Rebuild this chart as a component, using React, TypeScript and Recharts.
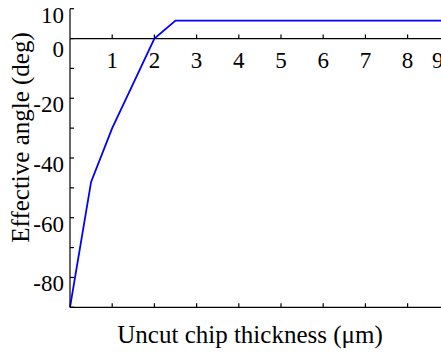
import React from 'react'
import { Label, Line, LineChart, ReferenceDot, ReferenceLine, XAxis, YAxis } from 'recharts'

const FONT = '"Liberation Serif", "Times New Roman", serif'

// uncut chip thickness (µm) vs effective angle (deg)
const thickness = [0, 0.5, 1, 1.5, 2, 2.5, 10]
const angle = [-90, -48, -30, -15, 0, 6, 6]

const xTicks = [1, 2, 3, 4, 5, 6, 7, 8, 9]
const yTicks = [-90, -80, -70, -60, -50, -40, -30, -20, -10, 0, 10]
const yLabels = [10, 0, -20, -40, -60, -80]

const data = thickness.map((x, i) => ({ x, angle: angle[i] }))

const YTick = ({ x, y, payload }) => {
  const v = payload.value
  return (
    <g>
      <line x1={x} x2={x + 4} y1={y} y2={y} stroke="#000" strokeWidth={1.2} />
      {yLabels.includes(v) && (
        <text x={x - 6} y={y + (v === 0 ? 18 : 14)} textAnchor="end" fontSize={23} fontFamily={FONT} fill="#000">
          {v}
        </text>
      )}
    </g>
  )
}

const BottomTick = ({ x, y }) => <line x1={x} x2={x} y1={y} y2={y - 4} stroke="#000" strokeWidth={1.2} />
const TopTick = ({ x, y }) => <line x1={x} x2={x} y1={y} y2={y + 4} stroke="#000" strokeWidth={1.2} />

// tick + label sitting on the zero line
const ZeroTick = ({ cx, cy, value }) => (
  <g>
    <line x1={cx} x2={cx} y1={cy} y2={cy - 4} stroke="#000" strokeWidth={1.2} />
    <text x={cx + (value === 9 ? -12 : 0)} y={cy + 29} textAnchor="middle" fontSize={23} fontFamily={FONT} fill="#000">
      {value}
    </text>
  </g>
)

export default function App() {
  return (
    <div style={{ position: 'absolute', left: 0, top: 0, width: 441, height: 354, overflow: 'hidden', background: '#fff' }}>
      <LineChart width={500} height={354} data={data} margin={{ top: 8.7, right: 8, bottom: 0, left: 0 }}>
        <XAxis
          dataKey="x"
          type="number"
          domain={[0, 10]}
          ticks={xTicks}
          height={46.7}
          tickSize={0}
          tickMargin={0}
          tick={<BottomTick />}
          axisLine={{ stroke: '#000', strokeWidth: 1.2 }}
          tickLine={false}
        >
          <Label
            content={({ viewBox }) => (
              <text x={viewBox.x + 180} y={viewBox.y + 36} textAnchor="middle" fontSize={25} fontFamily={FONT} fill="#000">
                Uncut chip thickness (μm)
              </text>
            )}
          />
        </XAxis>
        <XAxis
          xAxisId="top"
          orientation="top"
          dataKey="x"
          type="number"
          domain={[0, 10]}
          ticks={xTicks}
          height={0}
          tickSize={0}
          tickMargin={0}
          tick={<TopTick />}
          axisLine={{ stroke: '#000', strokeWidth: 1.2 }}
          tickLine={false}
        />
        <YAxis
          type="number"
          domain={[-90, 10]}
          ticks={yTicks}
          width={70}
          tickSize={0}
          tickMargin={0}
          tick={<YTick />}
          axisLine={{ stroke: '#000', strokeWidth: 1.2 }}
          tickLine={false}
          interval={0}
        >
          <Label
            content={({ viewBox }) => (
              <text
                transform={`translate(${viewBox.x + 28.5}, 137.5) rotate(-90)`}
                textAnchor="middle"
                fontSize={25}
                fontFamily={FONT}
                fill="#000"
              >
                Effective angle (deg)
              </text>
            )}
          />
        </YAxis>
        <ReferenceLine y={0} stroke="#000" strokeWidth={1.2} />
        {xTicks.map((v) => (
          <ReferenceDot key={v} x={v} y={0} r={1} shape={(p) => <ZeroTick cx={p.cx} cy={p.cy} value={v} />} />
        ))}
        <Line dataKey="angle" stroke="#0000ff" strokeWidth={1.8} dot={false} type="linear" isAnimationActive={false} />
      </LineChart>
    </div>
  )
}
